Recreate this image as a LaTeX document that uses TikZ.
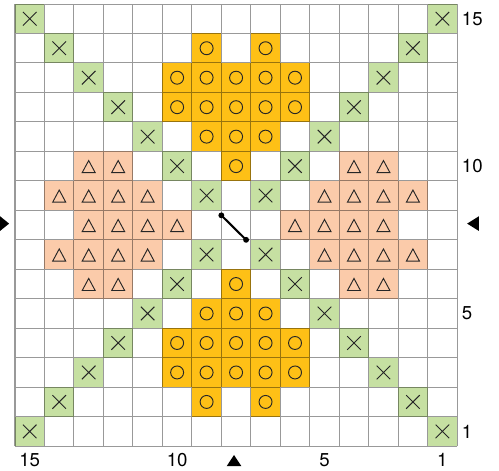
\documentclass[tikz,border=0pt]{standalone}
\usepackage{fontspec}
\setmainfont{TeX Gyre Heros}
\definecolor{StitchGreen}{RGB}{198,224,162}
\definecolor{StitchGold}{RGB}{254,192,22}
\definecolor{StitchPeach}{RGB}{251,203,170}
\tikzset{
  gridline/.style={draw=black,opacity=0.4,line width=0.5pt},
  symbol/.style={draw=black!85,line width=0.45pt},
  needle/.style={draw=black,line width=1pt},
  pointer/.style={fill=black},
  numlabel/.style={font=\fontsize{9}{10}\selectfont,inner sep=0pt}
}

\begin{document}
\begin{tikzpicture}[x=0.5cm,y=-0.5cm]
  \useasboundingbox (-0.509,-0.136) rectangle (16.42,15.84);
  % diagonal crosses
  \foreach \i in {0,1,2,3,4,5,6,8,9,10,11,12,13,14}{
    \fill[StitchGreen] (\i,\i) rectangle ++(1,1);
    \fill[StitchGreen] (14-\i,\i) rectangle ++(1,1);
    \draw[symbol] (\i+0.27,\i+0.27) -- ++(0.46,0.46) (\i+0.27,\i+0.73) -- ++(0.46,-0.46);
    \draw[symbol] (14.27-\i,\i+0.27) -- ++(0.46,0.46) (14.27-\i,\i+0.73) -- ++(0.46,-0.46);}
  % circles, top and bottom
  \foreach \c/\r in {6/1,8/1,5/2,6/2,7/2,8/2,9/2,5/3,6/3,7/3,8/3,9/3,6/4,7/4,8/4,7/5,
                     7/9,6/10,7/10,8/10,5/11,6/11,7/11,8/11,9/11,5/12,6/12,7/12,8/12,9/12,6/13,8/13}{
    \fill[StitchGold] (\c,\r) rectangle ++(1,1);
    \draw[symbol] (\c+0.5,\r+0.5) circle[radius=0.22];}
  % triangles, left and right
  \foreach \c/\r in {2/5,3/5,1/6,2/6,3/6,4/6,2/7,3/7,4/7,5/7,1/8,2/8,3/8,4/8,2/9,3/9,
                     11/5,12/5,10/6,11/6,12/6,13/6,9/7,10/7,11/7,12/7,10/8,11/8,12/8,13/8,11/9,12/9}{
    \fill[StitchPeach] (\c,\r) rectangle ++(1,1);
    \draw[symbol] (\c+0.28,\r+0.72) -- (\c+0.72,\r+0.72) -- (\c+0.5,\r+0.31) -- cycle;}
  \draw[gridline,step=0.5cm] (0,0) grid (15,15);
  % centre stitch
  \coordinate (stA) at (7.0,7.17);
  \coordinate (stB) at (7.84,8.0);
  \draw[needle] (stA) -- (stB);
  \fill (stA) circle[radius=0.1];
  \fill (stB) circle[radius=0.1];
  % centre pointers
  \fill[pointer] (-0.509,7.2) -- (-0.2,7.45) -- (-0.509,7.7) -- cycle;
  \fill[pointer] (15.74,7.2) -- (15.34,7.45) -- (15.74,7.7) -- cycle;
  \fill[pointer] (7.18,15.68) -- (7.43,15.3) -- (7.68,15.68) -- cycle;
  % counts
  \node[numlabel,anchor=west] (row15) at (15.15,0.5) {15};
  \node[numlabel,anchor=west] (row10) at (15.15,5.5) {10};
  \node[numlabel,anchor=west] (row5) at (15.15,10.5) {5};
  \node[numlabel,anchor=west] (row1) at (15.15,14.5) {1};
  \node[numlabel] (col15) at (0.5,15.47) {15};
  \node[numlabel] (col10) at (5.5,15.47) {10};
  \node[numlabel] (col5) at (10.5,15.47) {5};
  \node[numlabel] (col1) at (14.5,15.47) {1};
\end{tikzpicture}
\end{document}
